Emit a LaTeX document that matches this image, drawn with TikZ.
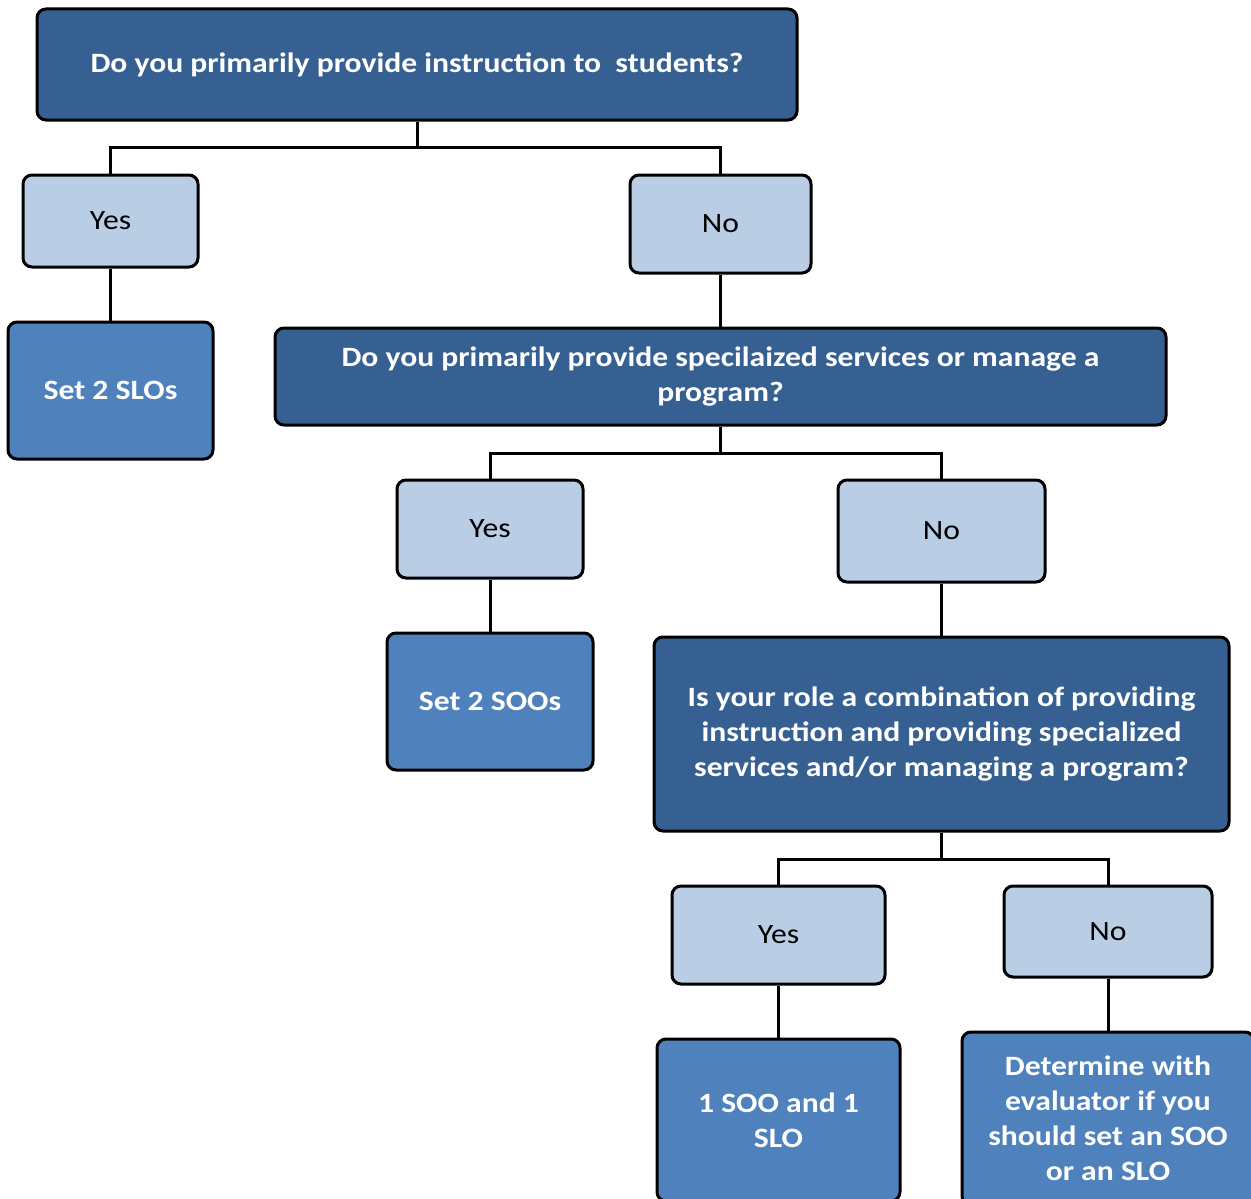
\documentclass[tikz,border=0pt]{standalone}
\usepackage{fontspec}
\setmainfont{Carlito}[FakeStretch=1.13]
\usepackage{xcolor}
\definecolor{qblue}{RGB}{54,96,146}
\definecolor{ablue}{RGB}{79,129,189}
\definecolor{lblue}{RGB}{185,205,229}
\usetikzlibrary{positioning, calc}
\tikzstyle{Box} = [
draw=black,
line width=3pt,
rounded corners=9pt,
inner sep=0pt,
align=center,
font=\fontsize{28}{35}\selectfont]
\tikzstyle{Question} = [Box, fill=qblue, text=white, font=\fontsize{28}{35}\selectfont\bfseries]
\tikzstyle{Answer} = [Box, fill=lblue, text=black]
\tikzstyle{Result} = [Box, fill=ablue, text=white, font=\fontsize{28}{35}\selectfont\bfseries]
\tikzstyle{Link} = [line width=3pt, black]

\begin{document}
\begin{tikzpicture}[x=1pt, y=-1pt]
    \useasboundingbox (0,0) rectangle (1251,1199);
    \clip (0,0) rectangle (1251,1199);

    \node [Question, minimum width=760pt, minimum height=111pt] (q1) at (417,64.5)
        {Do you primarily provide instruction to\ \ students?};
    \node [Answer, minimum width=175pt, minimum height=92pt] (yes1) at (110.5,221) {Yes};
    \node [Answer, minimum width=181pt, minimum height=98pt] (no1) at (720.5,224) {No};
    \node [Result, minimum width=205pt, minimum height=137pt] (slo) at (110.5,390.5) {Set 2 SLOs};
    \node [Question, minimum width=891pt, minimum height=97pt] (q2) at (720.5,376.5)
        {Do you primarily provide specilaized services or manage a\\program?};
    \node [Answer, minimum width=186pt, minimum height=98pt] (yes2) at (490,529) {Yes};
    \node [Answer, minimum width=207pt, minimum height=102pt] (no2) at (941.5,531) {No};
    \node [Result, minimum width=206pt, minimum height=137pt] (soo) at (490,701.5) {Set 2 SOOs};
    \node [Question, minimum width=575pt, minimum height=194pt] (q3) at (941.5,734)
        {Is your role a combination of providing\\instruction and providing specialized\\services and/or managing a program?};
    \node [Answer, minimum width=213pt, minimum height=98pt] (yes3) at (778.5,935) {Yes};
    \node [Answer, minimum width=208pt, minimum height=91pt] (no3) at (1108,931.5) {No};
    \node [Result, minimum width=243pt, minimum height=162pt] (both) at (778.5,1120) {1 SOO and 1\\SLO};
    \node [Result, minimum width=292pt, minimum height=173pt] (ask) at (1108,1118.5)
        {Determine with\\evaluator if you\\should set an SOO\\or an SLO};

    % branches
    \draw[Link] (q1.south) -- ++(0,26) -| (yes1.north);
    \draw[Link] (q1.south) -- ++(0,26) -| (no1.north);
    \draw[Link] (yes1.south) -- (slo.north);
    \draw[Link] (no1.south) -- (q2.north);
    \draw[Link] (q2.south) -- ++(0,27) -| (yes2.north);
    \draw[Link] (q2.south) -- ++(0,27) -| (no2.north);
    \draw[Link] (yes2.south) -- (soo.north);
    \draw[Link] (no2.south) -- (q3.north);
    \draw[Link] (q3.south) -- ++(0,27) -| (yes3.north);
    \draw[Link] (q3.south) -- ++(0,27) -| (no3.north);
    \draw[Link] (yes3.south) -- (both.north);
    \draw[Link] (no3.south) -- (ask.north);
\end{tikzpicture}
\end{document}
